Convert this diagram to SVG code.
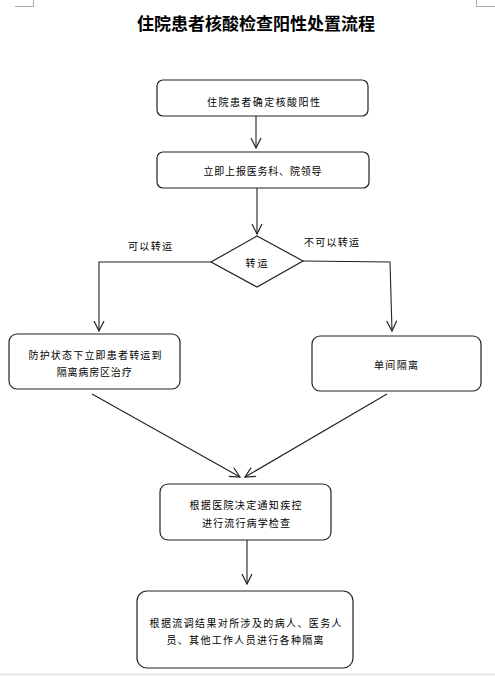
<svg xmlns="http://www.w3.org/2000/svg" width="495" height="677" viewBox="0 0 495 677">
<defs>
<marker id="arr" viewBox="0 0 12 12" refX="11" refY="6" markerWidth="12" markerHeight="12" markerUnits="userSpaceOnUse" orient="auto">
<path d="M1,1 L11,6 L1,11" fill="none" stroke="#222" stroke-width="1.2"/>
</marker>
<style>
.box{fill:#fff;stroke:#222;stroke-width:1.2}
.t{font-family:"Noto Sans CJK SC","Noto Sans",sans-serif;font-size:10px;fill:#000;text-anchor:middle;dominant-baseline:central}
.c{fill:none;stroke:#222;stroke-width:1.1}
.m{fill:none;stroke:#aaa;stroke-width:1}
</style>
</defs>
<rect width="495" height="677" fill="#fff"/>
<path class="m" d="M15,6.5 H33.5 V0 M495,6.5 H476.5 V0"/>
<line x1="0" y1="674.5" x2="495" y2="674.5" stroke="#e4e4e4" stroke-width="2"/>
<text x="256" y="22" font-family="'Noto Sans CJK SC',sans-serif" font-size="17" font-weight="bold" text-anchor="middle" dominant-baseline="central" textLength="238" lengthAdjust="spacing">住院患者核酸检查阳性处置流程</text>

<g id="connectors">
<line class="c" x1="256" y1="116" x2="256" y2="148" marker-end="url(#arr)"/>
<line class="c" x1="257" y1="188" x2="257" y2="234" marker-end="url(#arr)"/>
<polyline class="c" points="211,262 99,262 99,331" marker-end="url(#arr)"/>
<polyline class="c" points="303,261 390,262 392,331" marker-end="url(#arr)"/>
<line class="c" x1="92" y1="394" x2="240" y2="477" marker-end="url(#arr)"/>
<line class="c" x1="387" y1="394" x2="245" y2="477" marker-end="url(#arr)"/>
<line class="c" x1="247" y1="540" x2="247" y2="584" marker-end="url(#arr)"/>
<text class="t" x="150" y="245" textLength="44" lengthAdjust="spacing">可以转运</text>
<text class="t" x="331.5" y="241" textLength="55" lengthAdjust="spacing">不可以转运</text>
</g>

<g id="n1">
<rect class="box" x="157" y="80" width="211" height="36" rx="6"/>
<text class="t" x="263.5" y="101" textLength="113" lengthAdjust="spacing">住院患者确定核酸阳性</text>
</g>
<g id="n2">
<rect class="box" x="157" y="152" width="212" height="36" rx="6"/>
<text class="t" x="262.5" y="170" textLength="118" lengthAdjust="spacing">立即上报医务科、院领导</text>
</g>
<g id="n3">
<polygon class="box" points="257,236 303,261 257,287 211,262"/>
<text class="t" x="256.5" y="262" textLength="22" lengthAdjust="spacing">转运</text>
</g>
<g id="n4">
<rect class="box" x="9" y="334" width="171" height="55" rx="8"/>
<text class="t" x="95" y="354" textLength="133" lengthAdjust="spacing">防护状态下立即患者转运到</text>
<text class="t" x="94.2" y="371" textLength="75" lengthAdjust="spacing">隔离病房区治疗</text>
</g>
<g id="n5">
<rect class="box" x="312" y="336" width="169" height="55" rx="8"/>
<text class="t" x="396" y="364" textLength="44" lengthAdjust="spacing">单间隔离</text>
</g>
<g id="n6">
<rect class="box" x="160" y="484" width="171" height="56" rx="8"/>
<text class="t" x="245.5" y="504" textLength="112" lengthAdjust="spacing">根据医院决定通知疾控</text>
<text class="t" x="246" y="522" textLength="88" lengthAdjust="spacing">进行流行病学检查</text>
</g>
<g id="n7">
<rect class="box" x="137" y="591" width="216" height="77" rx="10"/>
<text class="t" x="245.5" y="622" textLength="192" lengthAdjust="spacing">根据流调结果对所涉及的病人、医务人</text>
<text class="t" x="245" y="639" textLength="157" lengthAdjust="spacing">员、其他工作人员进行各种隔离</text>
</g>
</svg>
